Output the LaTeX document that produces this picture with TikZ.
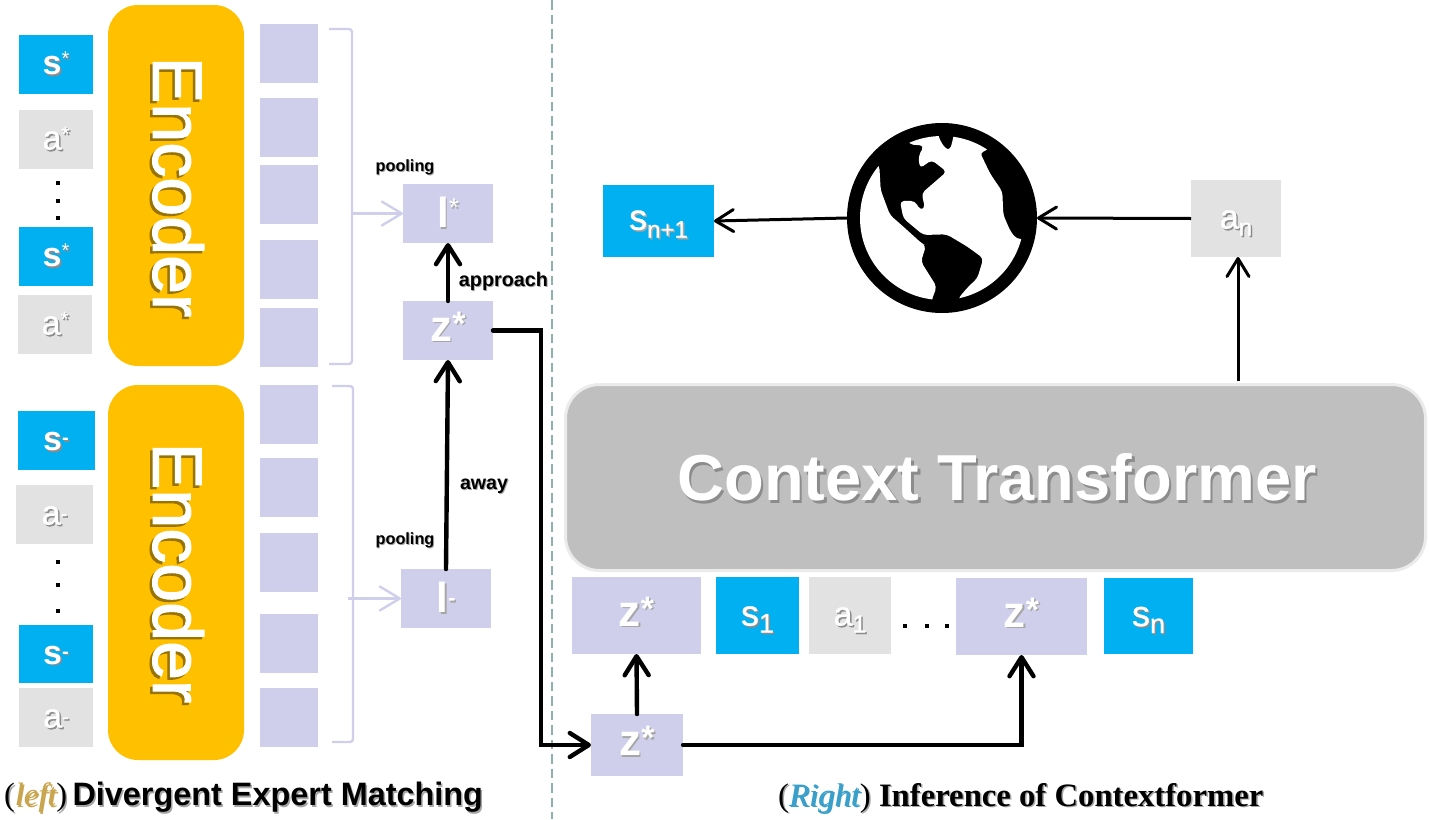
\documentclass[tikz,border=0pt]{standalone}
\usepackage{fontspec}
\setmainfont{Liberation Sans}
\newfontfamily\timesf{Liberation Serif}
\newfontfamily\semif[FakeBold=1.6]{Liberation Sans}
\newfontfamily\medf[FakeBold=0.8]{Liberation Sans}
\usetikzlibrary{arrows.meta}
\definecolor{cblue}{HTML}{00B0F0}
\definecolor{cgray}{HTML}{E2E2E2}
\definecolor{cpurple}{HTML}{CFCFEC}
\definecolor{corange}{HTML}{FFC000}
\definecolor{ctrans}{HTML}{BFBFBF}
\definecolor{cdash}{HTML}{8FB0B0}
\newcommand{\fsz}[1]{\fontsize{#1}{#1}\selectfont}
% text with a soft drop shadow: #1 colour, #2 offset, #3 text
\newcommand{\shad}[3]{\leavevmode\rlap{\raisebox{-#2}{\hspace{#2}\textcolor{#1}{#3}}}#3}
\newcommand{\upr}[2]{\smash{\raisebox{#1}{\mdseries\fsz{#2}*}}}
\newcommand{\uprb}[2]{\smash{\raisebox{#1}{\fsz{#2}*}}}
\newcommand{\updash}[2]{\smash{\raisebox{#1}{\fsz{#2}-}}}
\newcommand{\dwn}[3]{\smash{\raisebox{-#1}{\mdseries\fsz{#2}#3}}}
\newcommand{\tall}{\rule{0pt}{22pt}}
\tikzset{
  cellbox/.style={inner sep=0pt,outer sep=0pt,text=white,align=center},
  sbox/.style={cellbox,fill=cblue,font=\bfseries\fsz{34}},
  snbox/.style={cellbox,fill=cblue,font=\medf\fsz{36}},
  abox/.style={cellbox,fill=cgray,text=white,font=\medf\fsz{34}},
  pbox/.style={cellbox,fill=cpurple,minimum width=58pt,minimum height=59pt},
  zbox/.style={cellbox,fill=cpurple,font=\bfseries\fsz{44}},
  encbox/.style={cellbox,fill=corange,rounded corners=30pt,minimum width=136pt},
  enctext/.style={inner sep=0pt,text=white,rotate=-90,font=\semif\fsz{70}},
  lbl/.style={inner sep=0pt,font=\bfseries},
  dotsq/.style={fill=black,inner sep=0pt,minimum size=3.6pt},
  darrow/.style={black,line width=4.4pt,-{Straight Barb[length=19pt,width=24pt,round]},line cap=round},
  tarrow/.style={black,line width=3pt,-{Straight Barb[length=18pt,width=22pt,round]}},
  larrow/.style={cpurple,line width=2.4pt,-{Straight Barb[length=20pt,width=24pt,round]}},
  brack/.style={cpurple,line width=2.4pt,rounded corners=3pt}
}
\begin{document}
\begin{tikzpicture}[x=1pt,y=-1pt]
\useasboundingbox (0,0) rectangle (1429,819);
% divider
\draw[cdash,line width=2.6pt,dash pattern=on 9.5pt off 5pt] (552,0) coordinate (divA) -- (552,819) coordinate (divB);
% encoders
\node[encbox,minimum height=361pt] (enc1) at (176,185.5) {};
\node[encbox,minimum height=375pt] (enc2) at (176,572.5) {};
\node[enctext] (enc1t) at (177,187) {\shad{black!40!corange}{2.5pt}{Encoder}};
\node[enctext] (enc2t) at (177,573) {\shad{black!40!corange}{2.5pt}{Encoder}};
% left tokens, top
\node[sbox,minimum width=74pt,minimum height=59pt] (s1) at (56,64.5) {\tall\shad{black!45}{1.5pt}{s\upr{9pt}{20}}};
\node[abox,minimum width=74pt,minimum height=59pt] (a1) at (56,139.5) {\tall\shad{black!45}{1.5pt}{a\upr{9pt}{20}}};
\node[dotsq] (d1) at (58,183) {};
\node[dotsq] (d2) at (58,201) {};
\node[dotsq] (d3) at (58,218) {};
\node[sbox,minimum width=74pt,minimum height=59pt] (s2) at (56,256.5) {\tall\shad{black!45}{1.5pt}{s\upr{9pt}{20}}};
\node[abox,minimum width=74pt,minimum height=59pt] (a2) at (55,324.5) {\tall\shad{black!45}{1.5pt}{a\upr{9pt}{20}}};
% left tokens, bottom
\node[sbox,minimum width=77pt,minimum height=59pt] (s3) at (56,440.5) {\tall\shad{black!45}{1.5pt}{s\updash{6pt}{20}}};
\node[abox,minimum width=77pt,minimum height=59pt] (a3) at (54.5,514.5) {\tall\shad{black!45}{1.5pt}{a\updash{4pt}{20}}};
\node[dotsq] (d4) at (58,562) {};
\node[dotsq] (d5) at (58,585) {};
\node[dotsq] (d6) at (58,611) {};
\node[sbox,minimum width=74pt,minimum height=58pt] (s4) at (56,654) {\tall\shad{black!45}{1.5pt}{s\updash{6pt}{20}}};
\node[abox,minimum width=74pt,minimum height=59pt] (a4) at (56,717.5) {\tall\shad{black!45}{1.5pt}{a\updash{4pt}{20}}};
% embeddings
\node[pbox] (p1) at (289,53.5) {};
\node[pbox] (p2) at (289,127) {};
\node[pbox] (p3) at (289,194.5) {};
\node[pbox] (p4) at (289,269.5) {};
\node[pbox] (p5) at (289,337) {};
\node[pbox] (p6) at (289,414) {};
\node[pbox] (p7) at (289,487) {};
\node[pbox] (p8) at (289,562) {};
\node[pbox] (p9) at (289,643.5) {};
\node[pbox] (p10) at (289,717.5) {};
% pooled
\node[zbox,minimum width=90pt,minimum height=59pt,font=\bfseries\fsz{42}] (lstar) at (448,213.5) {\shad{black!35}{1.5pt}{l\upr{11pt}{26}}};
\node[zbox,minimum width=90pt,minimum height=59pt] (zs) at (448,330.5) {\tall\shad{black!35}{1.5pt}{z\uprb{6pt}{34}}};
\node[zbox,minimum width=90pt,minimum height=59pt,font=\bfseries\fsz{42}] (lminus) at (446,598.5) {\shad{black!35}{1.5pt}{l\updash{7pt}{22}}};
% brackets
\coordinate (b1t) at (329,29);
\coordinate (b1c) at (352,29);
\coordinate (b1d) at (352,364);
\coordinate (b1b) at (329,364);
\coordinate (b1m) at (352,213.5);
\coordinate (b2t) at (332,386);
\coordinate (b2c) at (353,386);
\coordinate (b2d) at (353,742);
\coordinate (b2b) at (332,742);
\coordinate (b2m) at (348,598.5);
\draw[brack] (b1t) -- (b1c) -- (b1d) -- (b1b);
\draw[brack] (b2t) -- (b2c) -- (b2d) -- (b2b);
\draw[larrow] (b1m) -- (lstar.west);
\draw[larrow] (b2m) -- (lminus.west);
\node[lbl,font=\bfseries\fsz{16.3}] (pool1) at (405,168) {\shad{black!35}{1pt}{pooling}};
\node[lbl,font=\bfseries\fsz{16.3}] (pool2) at (405,541) {\shad{black!35}{1pt}{pooling}};
\node[lbl,font=\bfseries\fsz{19.8}] (appr) at (503.5,282) {\shad{black!35}{1pt}{approach}};
\node[lbl,font=\bfseries\fsz{19.6}] (away) at (484,487) {\shad{black!35}{1pt}{away}};
\draw[darrow] (zs.north) -- (lstar.south);
\draw[darrow] (lminus.north) -- (zs.south);
% right, bottom row
\node[zbox,minimum width=129pt,minimum height=77pt] (z1) at (636.5,615.5) {\tall\shad{black!35}{1.5pt}{z\uprb{6pt}{34}}};
\node[snbox,minimum width=83pt,minimum height=77pt] (sb1) at (757.5,615.5) {\tall\shad{black!45}{1.5pt}{s\dwn{7pt}{27}{1}}};
\node[abox,minimum width=82pt,minimum height=77pt] (ab1) at (850,615.5) {\tall\shad{black!45}{1.5pt}{a\dwn{7pt}{25}{1}}};
\node[dotsq] (d7) at (905,626) {};
\node[dotsq] (d8) at (927,626) {};
\node[dotsq] (d9) at (947,626) {};
\node[zbox,minimum width=131pt,minimum height=77pt] (z2) at (1021.5,616.5) {\tall\shad{black!35}{1.5pt}{z\uprb{6pt}{34}}};
\node[snbox,minimum width=89pt,minimum height=76pt] (sbn) at (1148.5,616) {\tall\shad{black!45}{1.5pt}{s\dwn{7pt}{27}{n}}};
\node[zbox,minimum width=92pt,minimum height=62pt] (zlow) at (637,745) {\tall\shad{black!35}{1.5pt}{z\uprb{6pt}{34}}};
\coordinate (elbow) at (541,330.5);
\draw[darrow] (zs.east) -- (elbow) |- (zlow.west);
\draw[darrow] (zlow.north) -- (z1.south);
\draw[darrow] (zlow.east) -| (z2.south);
% transformer
\node[cellbox,fill=ctrans,draw=cgray!70!white,line width=3pt,rounded corners=34pt,minimum width=860pt,minimum height=186pt] (trans) at (995.5,477.5) {};
\node[inner sep=0pt,text=white,font=\bfseries\fsz{65}] (transt) at (997,479) {\shad{black!45}{2.5pt}{Context Transformer}};
% world
\node[snbox,minimum width=111pt,minimum height=72pt] (sn1) at (658.5,221) {\shad{black!35}{1.5pt}{s\dwn{8pt}{24}{n+1}}};
\node[abox,minimum width=90pt,minimum height=77pt] (an) at (1236,218.5) {\tall\shad{black!45}{1.5pt}{a\dwn{7pt}{24}{n}}};
\node[circle,fill=black,inner sep=0pt,outer sep=0pt,minimum size=190pt] (globe) at (942,218) {};
\begin{scope}
\clip (942,218) circle (82pt);
\begin{scope}[shift={(840,115)},x=0.3333pt,y=-0.3333pt]
\fill[white,rounded corners=4pt] (60,100) -- (118,152) -- (122,225) -- (150,300) -- (190,335) -- (245,385) -- (258,392) -- (243,440) -- (290,515) -- (275,556) -- (270,640) -- (-20,640) -- (-20,100) -- cycle;
\fill[white,rounded corners=4pt] (207,88) -- (190,20) -- (290,20) -- (296,68) -- (315,100) -- (330,106) -- (340,68) -- (345,20) -- (470,20) -- (445,105) -- (420,112) -- (450,175) -- (487,230) -- (490,300) -- (512,350) -- (530,372) -- (545,372) -- (640,390) -- (640,640) -- (350,640) -- (355,550) -- (385,515) -- (412,490) -- (430,430) -- (382,395) -- (320,358) -- (250,360) -- (190,310) -- (180,258) -- (225,258) -- (240,285) -- (255,280) -- (245,235) -- (320,170) -- (275,135) -- (240,160) -- (235,125) -- (252,92) -- cycle;
\end{scope}
\end{scope}
\draw[tarrow] (globe.west) -- (sn1.east);
\draw[tarrow] (an.west) -- (globe.east);
\coordinate (tout) at (1238,381);
\coordinate (antarget) at (1238,257);
\draw[tarrow] (tout) -- (antarget);
% captions
\node[inner sep=0pt,anchor=west] (capl) at (4,798) {\shad{black!35}{1.5pt}{\fsz{32.4}{\timesf(\textit{\textcolor[HTML]{C9A54F}{left}})}\,\bfseries Divergent Expert Matching}};
\node[inner sep=0pt,anchor=west] (capr) at (778,799) {\shad{black!35}{1.5pt}{\fsz{32.7}\timesf\bfseries{\mdseries(\textit{\textcolor[HTML]{3A9FC9}{Right}})} Inference of Contextformer}};
\end{tikzpicture}
\end{document}
